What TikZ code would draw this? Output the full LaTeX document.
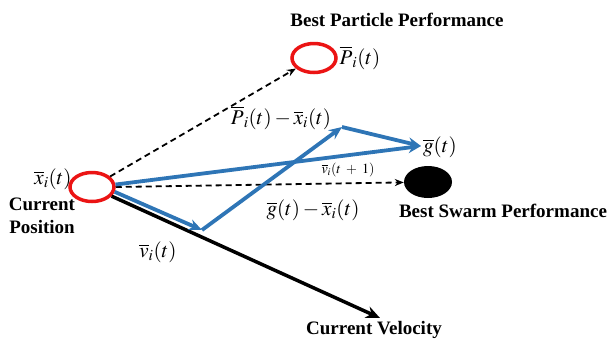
\documentclass[tikz,border=0pt]{standalone}
\usepackage{amsmath}
\usepackage{mathptmx}
\usepackage[no-math]{fontspec}
\setmainfont{Liberation Serif}
\usetikzlibrary{shapes.geometric,arrows.meta}
\definecolor{vecblue}{RGB}{46,117,182}
\definecolor{posred}{RGB}{235,20,20}
\tikzset{
  redpos/.style={ellipse,draw=posred,line width=3.5pt,minimum width=44pt,minimum height=29pt,inner sep=0pt},
  blackpos/.style={ellipse,fill=black,minimum width=48pt,minimum height=32pt,inner sep=0pt},
  dashvec/.style={dashed,line width=1.8pt,dash pattern=on 6pt off 4pt,-{Stealth[length=9pt,width=7pt]}},
  bluevec/.style={draw=vecblue,line width=3.8pt,-{Stealth[length=13pt,width=11pt]}},
  blackvec/.style={line width=3.5pt,-{Stealth[length=14pt,width=12pt]}},
  bigtext/.style={font=\fontsize{19}{22}\selectfont\bfseries,align=center},
  mathtext/.style={font=\fontsize{21}{23}\selectfont}
}
\begin{document}
\begin{tikzpicture}[x=1pt,y=-1pt]
\useasboundingbox (0,0) rectangle (614,341);
% particles
\node[redpos] (xi) at (92,187) {};
\node[redpos] (pbest) at (314,58) {};
\node[blackpos] (gbest) at (428,182) {};
\coordinate (vtip) at (202,230);
\coordinate (ptip) at (342,127);
\coordinate (gtip) at (421,146);
\coordinate (cvtip) at (380,318);
% vectors
\draw[dashvec] (xi) -- (pbest);
\draw[blackvec] (xi.-25) -- (cvtip);
\draw[dashvec] (xi.east) -- (gbest);
\draw[bluevec] (xi.-12) -- (vtip);
\draw[bluevec] (vtip) -- (ptip);
\draw[bluevec] (ptip) -- (gtip);
\draw[bluevec] (xi.6) -- (gtip);
% labels
\node[bigtext] (pbl) at (397,20) {Best Particle Performance};
\node[mathtext] (pil) at (360,58) {$\overline{P}_i(t)$};
\node[mathtext] (pxl) at (281,118) {$\overline{P}_i(t)-\overline{x}_i(t)$};
\node[mathtext] (gl) at (440,147) {$\overline{g}(t)$};
\node[font=\fontsize{14}{16}\selectfont] (vnl) at (348,170) {$\overline{v}_i(t\;+\;1)$};
\node[mathtext] (gxl) at (313,210) {$\overline{g}(t)-\overline{x}_i(t)$};
\node[bigtext] (gbl) at (503,211) {Best Swarm Performance};
\node[mathtext] (xl) at (53,179) {$\overline{x}_i(t)$};
\node[bigtext,font=\fontsize{19}{23}\selectfont\bfseries] (cpl) at (42,216) {Current\\Position};
\node[mathtext] (vl) at (158,252) {$\overline{v}_i(t)$};
\node[bigtext] (cvl) at (374,330) {Current Velocity};
\end{tikzpicture}
\end{document}
